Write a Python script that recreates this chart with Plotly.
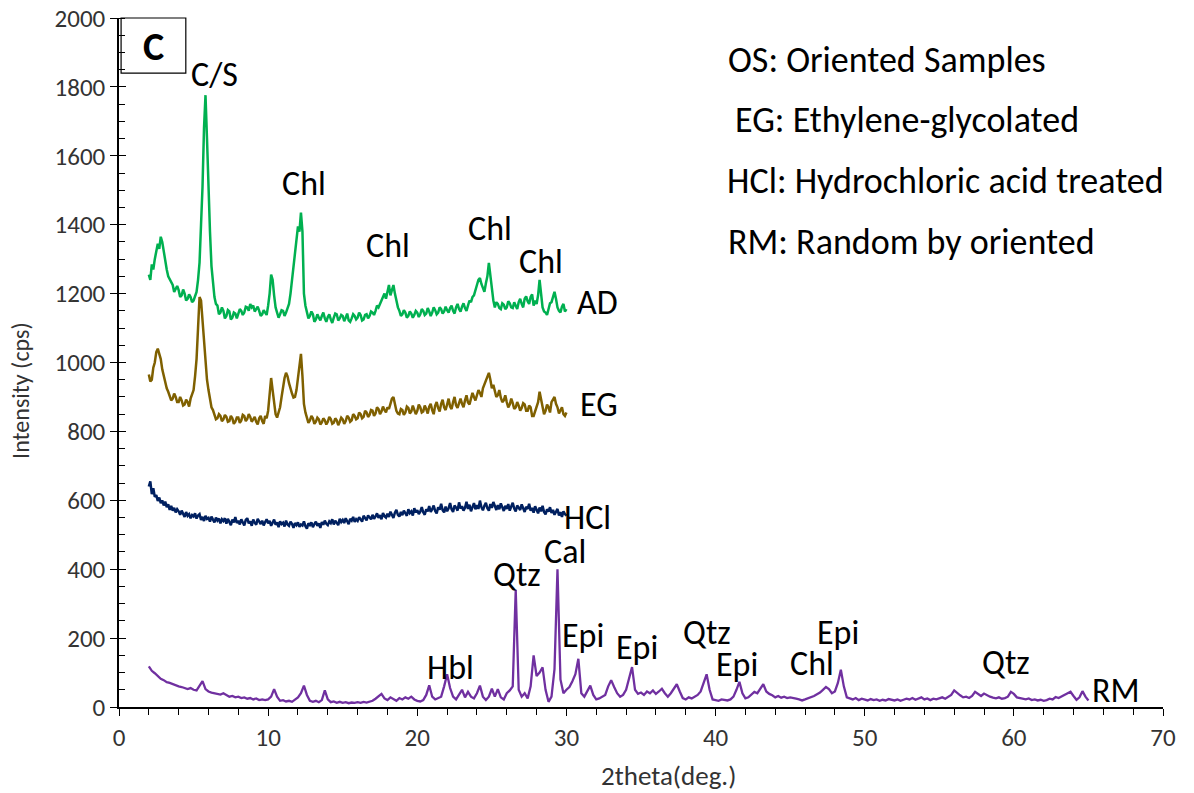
import plotly.graph_objects as go

# 2theta grids (deg.)
x_start = 2.0
step_fine = 0.1     # AD, EG, HCl scans
step_rm = 0.2       # RM scan

ad_y = [
    1255, 1240, 1285, 1270, 1300, 1320, 1345, 1330, 1365, 1350,
    1320, 1290, 1270, 1250, 1240, 1232, 1225, 1205, 1215, 1222,
    1210, 1190, 1195, 1212, 1200, 1180, 1185, 1198, 1190, 1175,
    1180, 1192, 1205, 1240, 1290, 1400, 1510, 1680, 1776, 1650,
    1480, 1380, 1280, 1220, 1190, 1170, 1165, 1140, 1145, 1160,
    1150, 1128, 1135, 1152, 1148, 1125, 1130, 1145, 1142, 1128,
    1140, 1155, 1150, 1138, 1145, 1162, 1160, 1150, 1170, 1160,
    1165, 1148, 1155, 1162, 1150, 1135, 1140, 1152, 1145, 1138,
    1165, 1200, 1255, 1240, 1195, 1160, 1145, 1130, 1140, 1152,
    1150, 1135, 1145, 1160, 1170, 1200, 1240, 1290, 1325, 1370,
    1395, 1380, 1435, 1380, 1200, 1165, 1150, 1128, 1135, 1148,
    1140, 1118, 1125, 1140, 1130, 1122, 1135, 1145, 1128, 1118,
    1132, 1140, 1125, 1115, 1130, 1142, 1140, 1122, 1128, 1138,
    1135, 1120, 1130, 1142, 1122, 1118, 1128, 1140, 1135, 1125,
    1130, 1145, 1138, 1122, 1125, 1138, 1140, 1128, 1135, 1148,
    1145, 1138, 1150, 1165, 1160, 1170, 1180, 1195, 1200, 1185,
    1210, 1225, 1195, 1215, 1225, 1200, 1175, 1160, 1150, 1135,
    1140, 1152, 1145, 1130, 1135, 1148, 1142, 1130, 1138, 1150,
    1145, 1132, 1140, 1155, 1150, 1138, 1142, 1158, 1148, 1135,
    1145, 1160, 1152, 1140, 1145, 1160, 1155, 1142, 1148, 1162,
    1152, 1145, 1158, 1165, 1150, 1142, 1160, 1170, 1155, 1148,
    1162, 1172, 1158, 1150, 1165, 1180, 1175, 1190, 1195, 1215,
    1225, 1240, 1245, 1228, 1215, 1205, 1230, 1250, 1289, 1250,
    1210, 1180, 1160, 1175, 1170, 1158, 1155, 1172, 1168, 1155,
    1160, 1178, 1172, 1160, 1158, 1175, 1165, 1155, 1175, 1185,
    1170, 1160, 1185, 1192, 1178, 1170, 1190, 1198, 1165, 1180,
    1170, 1195, 1240, 1200, 1160, 1148, 1145, 1138, 1160, 1172,
    1175, 1190, 1205, 1185, 1160, 1150, 1145, 1162, 1170, 1148,
    1155,
]

eg_y = [
    965, 945, 950, 985, 1000, 1030, 1040, 1025, 1010, 980,
    960, 935, 925, 915, 905, 890, 895, 910, 900, 885,
    885, 900, 890, 875, 878, 892, 885, 872, 895, 905,
    920, 960, 1010, 1100, 1190, 1180, 1120, 1060, 990, 950,
    920, 890, 870, 862, 850, 835, 838, 850, 845, 830,
    835, 848, 842, 828, 830, 845, 838, 822, 828, 840,
    840, 825, 832, 848, 845, 830, 836, 850, 842, 828,
    835, 842, 828, 820, 838, 845, 830, 822, 845, 838,
    860, 900, 955, 920, 880, 850, 840, 852, 870, 900,
    930, 955, 970, 960, 940, 920, 910, 898, 900, 920,
    950, 990, 1025, 960, 880, 855, 840, 825, 832, 845,
    838, 822, 828, 840, 835, 820, 826, 838, 832, 820,
    828, 842, 836, 822, 825, 838, 832, 818, 828, 840,
    835, 822, 830, 845, 840, 828, 832, 850, 845, 835,
    838, 855, 850, 838, 842, 860, 855, 842, 848, 862,
    860, 845, 852, 870, 865, 850, 858, 872, 862, 855,
    870, 865, 880, 895, 900, 880, 860, 852, 850, 865,
    862, 848, 855, 872, 868, 852, 858, 875, 865, 850,
    860, 878, 870, 855, 858, 875, 865, 852, 872, 880,
    862, 850, 875, 885, 868, 858, 880, 892, 870, 862,
    878, 895, 872, 865, 885, 900, 876, 868, 882, 895,
    880, 870, 890, 905, 884, 878, 895, 912, 900, 890,
    905, 920, 912, 900, 925, 935, 945, 955, 970, 950,
    925, 935, 915, 900, 905, 920, 898, 885, 890, 905,
    885, 870, 878, 895, 882, 865, 870, 885, 875, 860,
    868, 882, 878, 860, 860, 875, 870, 845, 845, 860,
    870, 885, 915, 890, 875, 850, 860, 878, 870, 855,
    885, 895, 900, 880, 870, 852, 862, 870, 850, 845,
    855,
]

hcl_y = [
    640, 655, 618, 635, 610, 615, 598, 608, 592, 600,
    585, 596, 580, 588, 572, 584, 570, 578, 565, 574,
    568, 558, 570, 562, 552, 566, 555, 560, 548, 557,
    553, 562, 547, 556, 560, 543, 552, 540, 555, 546,
    549, 538, 553, 544, 536, 550, 541, 547, 533, 545,
    540, 548, 532, 546, 539, 528, 544, 536, 551, 534,
    541, 530, 545, 538, 527, 543, 548, 533, 539, 526,
    544, 535, 529, 546, 538, 531, 541, 527, 537, 545,
    533, 540, 526, 538, 544, 529, 536, 522, 539, 531,
    535, 524, 541, 530, 526, 538, 532, 520, 534, 528,
    536, 523, 530, 527, 539, 525, 518, 533, 528, 536,
    522, 531, 538, 526, 533, 520, 537, 529, 541, 532,
    528, 539, 534, 545, 530, 541, 536, 528, 546, 537,
    543, 534, 548, 539, 531, 546, 541, 552, 537, 545,
    540, 551, 544, 538, 555, 547, 542, 556, 549, 545,
    558, 546, 553, 562, 549, 557, 545, 563, 554, 550,
    561, 552, 567, 556, 549, 564, 572, 558, 553, 566,
    557, 570, 562, 555, 574, 563, 568, 556, 577, 565,
    571, 560, 567, 580, 565, 558, 574, 568, 583, 566,
    574, 585, 569, 562, 580, 573, 590, 571, 565, 582,
    568, 577, 592, 574, 566, 585, 579, 570, 594, 576,
    583, 570, 578, 596, 575, 587, 568, 580, 592, 574,
    586, 575, 599, 580, 571, 584, 593, 577, 570, 589,
    578, 595, 583, 572, 586, 574, 591, 580, 569, 584,
    575, 589, 570, 582, 593, 576, 568, 585, 578, 572,
    588, 574, 566, 581, 575, 590, 570, 578, 564, 583,
    571, 562, 579, 568, 584, 566, 559, 574, 567, 580,
    563, 572, 558, 569, 575, 556, 566, 552, 568, 560,
    555,
]

rm_y = [
    118, 105, 98, 90, 82,
    78, 72, 70, 66, 62,
    60, 58, 55, 52, 55,
    50, 48, 60, 75, 52,
    45, 42, 40, 38, 36,
    40, 34, 30, 32, 28,
    30, 26, 28, 24, 26,
    22, 25, 20, 22, 20,
    22, 30, 52, 30, 18,
    20, 16, 18, 15, 22,
    28, 40, 62, 35, 18,
    15, 18, 14, 20, 48,
    22, 14, 16, 12, 15,
    12, 14, 11, 13, 12,
    14, 12, 15, 13, 16,
    18, 24, 30, 38, 25,
    20, 28, 22, 18, 26,
    22, 28, 24, 30, 22,
    18, 16, 20, 35, 63,
    30, 22, 25, 30, 60,
    95, 55, 30, 22, 35,
    50, 28, 44, 30, 25,
    40, 62, 30, 20, 30,
    53, 30, 52, 28, 22,
    40, 48, 60, 340, 50,
    30, 40, 25, 60, 150,
    90, 100, 115, 50, 15,
    30, 110, 400, 80, 40,
    50, 58, 75, 95, 140,
    40, 30, 45, 62, 35,
    22, 25, 30, 35, 60,
    78, 58, 40, 30, 35,
    50, 80, 116, 50, 38,
    42, 35, 45, 40, 48,
    38, 45, 53, 40, 30,
    40, 55, 66, 45, 26,
    22, 28, 25, 30, 35,
    45, 70, 95, 50, 22,
    20, 18, 22, 20, 19,
    22, 30, 50, 73, 40,
    25, 28, 35, 44, 40,
    55, 66, 45, 38, 34,
    28, 32, 27, 30, 26,
    28, 27, 24, 22, 19,
    22, 25, 28, 32, 37,
    42, 50, 58, 52, 40,
    45, 70, 108, 60, 28,
    24, 22, 26, 20, 24,
    22, 19, 23, 20, 22,
    18, 21, 19, 23, 20,
    19, 22, 18, 21, 24,
    22, 26, 21, 24, 28,
    22, 25, 20, 24, 22,
    26, 28, 24, 30, 35,
    48, 40, 34, 28, 30,
    26, 32, 44, 38, 32,
    39, 34, 30, 27, 25,
    28, 24, 26, 30, 44,
    38, 28, 26, 24, 22,
    25, 20, 22, 19, 21,
    18, 20, 24, 22, 29,
    26, 30, 35, 40, 44,
    32, 21, 28, 46, 30,
    19,
]

series_names = ["AD", "EG", "HCl", "RM"]
series_colors = ["#00B050", "#7F6000", "#002060", "#7030A0"]
series_steps = [step_fine, step_fine, step_fine, step_rm]
series_widths = [2.5, 2.5, 2.5, 2.3]

# peak / curve labels: (text, 2theta, intensity)
peak_labels = [
    ("C/S", 6.42, 1835), ("Chl", 12.43, 1521), ("Chl", 18.05, 1341),
    ("Chl", 24.87, 1390), ("Chl", 28.28, 1292), ("AD", 32.1, 1173),
    ("EG", 32.2, 877), ("HCl", 31.4, 549), ("Qtz", 26.67, 386),
    ("Cal", 29.88, 450), ("Hbl", 22.26, 116), ("Epi", 31.08, 209),
    ("Epi", 34.76, 174), ("Qtz", 39.44, 215), ("Epi", 41.44, 124),
    ("Chl", 46.46, 125), ("Epi", 48.2, 215), ("Qtz", 59.49, 128),
    ("RM", 66.84, 49),
]

legend_texts = [
    "OS: Oriented Samples",
    "EG: Ethylene-glycolated",
    "HCl: Hydrochloric acid treated",
    "RM: Random by oriented",
]

x_title = "2theta(deg.)"
y_title = "Intensity (cps)"

FONT = "Carlito, Calibri, Lato, sans-serif"

fig = go.Figure()
for name, ys, col, st, w in zip(series_names, [ad_y, eg_y, hcl_y, rm_y], series_colors,
                                series_steps, series_widths):
    xs = [round(x_start + st * i, 1) for i in range(len(ys))]
    fig.add_trace(go.Scatter(x=xs, y=ys, mode="lines", name=name,
                             line=dict(color=col, width=w), showlegend=False))

# invisible helper trace on an overlaid axis to draw the inner half of the major y ticks
fig.add_trace(go.Scatter(x=[None], y=[None], yaxis="y2", showlegend=False, hoverinfo="skip"))

annotations = []
for t, xv, yv in peak_labels:
    annotations.append(dict(x=xv, y=yv, xref="x", yref="y", text=t, showarrow=False,
                            font=dict(family=FONT, size=34, color="#000000"),
                            xanchor="center", yanchor="middle"))

leg_x = [0.5817, 0.588, 0.5808, 0.5817]
leg_y = [0.939, 0.852, 0.763, 0.675]
for t, lx, ly in zip(legend_texts, leg_x, leg_y):
    annotations.append(dict(x=lx, y=ly, xref="paper", yref="paper", text=t, showarrow=False,
                            font=dict(family=FONT, size=36, color="#000000"),
                            xanchor="left", yanchor="middle"))

annotations.append(dict(x=0.033, y=0.958, xref="paper", yref="paper", text="<b>C</b>",
                        showarrow=False, font=dict(family=FONT, size=40, color="#000000"),
                        xanchor="center", yanchor="middle"))

# axis titles
annotations.append(dict(x=0.526, y=-0.099, xref="paper", yref="paper", text=x_title,
                        showarrow=False, font=dict(family=FONT, size=27, color="#333333"),
                        xanchor="center", yanchor="middle"))
annotations.append(dict(x=-0.095, y=0.46, xref="paper", yref="paper", text=y_title,
                        showarrow=False, textangle=-90,
                        font=dict(family=FONT, size=24, color="#333333"),
                        xanchor="center", yanchor="middle"))

fig.update_layout(
    width=1194, height=793,
    margin=dict(l=119, r=31, t=18, b=86, autoexpand=False),
    paper_bgcolor="white", plot_bgcolor="white",
    annotations=annotations,
    shapes=[dict(type="rect", xref="paper", yref="paper", x0=0.002, x1=0.064, y0=0.920, y1=1.0,
                 line=dict(color="black", width=1.2), fillcolor="rgba(0,0,0,0)")],
    font=dict(family=FONT),
    yaxis2=dict(overlaying="y", side="left", range=[0, 2000], dtick=200, tick0=0,
                ticks="inside", ticklen=7, tickcolor="#000000", tickwidth=1.2,
                showticklabels=False, showgrid=False, zeroline=False, showline=False,
                automargin=False),
)

fig.update_xaxes(
    range=[0, 70], dtick=10, tick0=0,
    showline=True, linecolor="#000000", linewidth=1.5, mirror=False,
    showgrid=False, zeroline=False, automargin=False,
    ticks="outside", ticklen=7, tickcolor="#000000", tickwidth=1.2,
    minor=dict(dtick=2, ticks="outside", ticklen=6, tickcolor="#000000", tickwidth=1),
    tickfont=dict(family=FONT, size=25, color="#333333"),
    ticklabeloverflow="allow",
)
fig.update_layout(yaxis=dict(
    range=[0, 2000], dtick=200, tick0=0,
    showline=True, linecolor="#000000", linewidth=1.5, mirror=False,
    showgrid=False, zeroline=False, automargin=False,
    ticks="outside", ticklen=7, tickcolor="#000000", tickwidth=1.2,
    minor=dict(dtick=50, ticks="inside", ticklen=6, tickcolor="#000000", tickwidth=1),
    tickfont=dict(family=FONT, size=25, color="#333333"),
    ticklabeloverflow="allow",
))

fig.write_html("out.html", config={"displayModeBar": False},
               post_script="document.body.style.margin='0';document.body.style.overflow='hidden';")
